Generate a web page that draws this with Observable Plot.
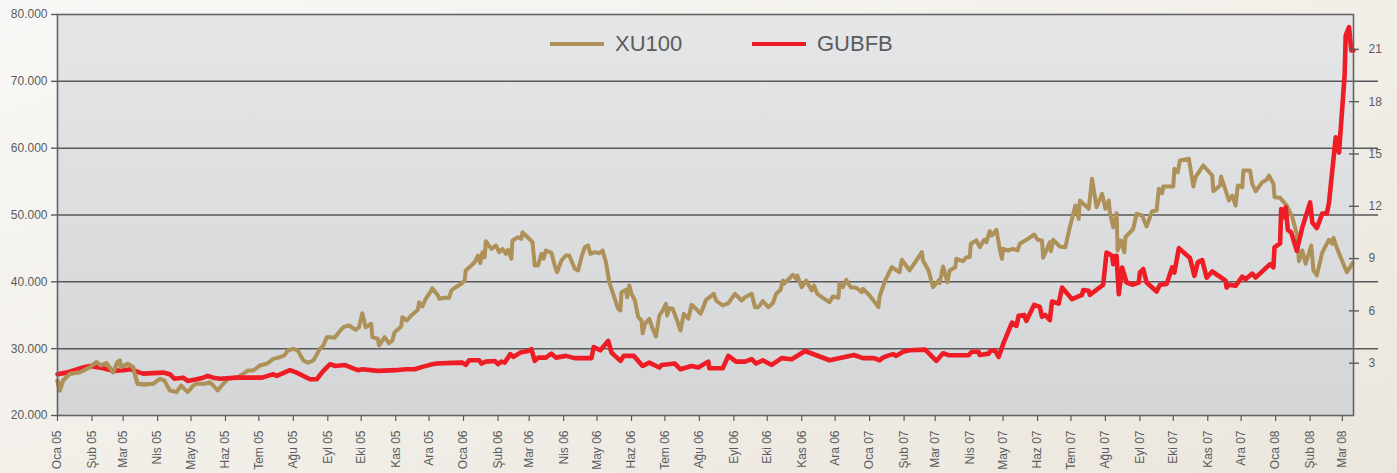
<!DOCTYPE html>
<html><head><meta charset="utf-8">
<script src="https://cdn.jsdelivr.net/npm/d3@7"></script>
<script src="https://cdn.jsdelivr.net/npm/@observablehq/plot@0.6"></script>
<style>
html,body{margin:0;padding:0;}
body{width:1397px;height:473px;overflow:hidden;background:linear-gradient(160deg,#f9f8f6 0%,#f2efe9 50%,#ebe6dd 100%);font-family:"Liberation Sans",Arial,sans-serif;}
#wrap{position:relative;width:1397px;height:473px;}
#wrap svg{position:absolute;left:0;top:0;}
.lg{position:absolute;top:31px;height:26px;display:flex;align-items:center;color:#5b5b5d;font-size:22px;}
.lg span.sw{display:inline-block;width:54px;height:4px;margin-right:11px;}
</style></head>
<body><div id="wrap"></div>
<script>
// ---- data ----
const xuDates = ["2005-01-01","2005-01-03","2005-01-06","2005-01-12","2005-01-21","2005-01-30","2005-02-05","2005-02-09","2005-02-14","2005-02-20","2005-02-24","2005-02-26","2005-02-27","2005-03-05","2005-03-10","2005-03-13","2005-03-14","2005-03-20","2005-03-28","2005-04-03","2005-04-07","2005-04-12","2005-04-18","2005-04-22","2005-04-25","2005-04-28","2005-05-03","2005-05-06","2005-05-13","2005-05-18","2005-05-21","2005-05-25","2005-05-30","2005-06-03","2005-06-12","2005-06-17","2005-06-21","2005-06-26","2005-07-02","2005-07-08","2005-07-14","2005-07-20","2005-07-24","2005-07-27","2005-08-01","2005-08-05","2005-08-10","2005-08-14","2005-08-19","2005-08-25","2005-08-28","2005-08-31","2005-09-04","2005-09-07","2005-09-11","2005-09-15","2005-09-20","2005-09-26","2005-09-29","2005-10-02","2005-10-05","2005-10-10","2005-10-11","2005-10-16","2005-10-17","2005-10-22","2005-10-26","2005-10-29","2005-10-31","2005-11-06","2005-11-07","2005-11-11","2005-11-15","2005-11-21","2005-11-22","2005-11-25","2005-11-28","2005-12-03","2005-12-04","2005-12-09","2005-12-10","2005-12-15","2005-12-19","2005-12-21","2005-12-25","2005-12-30","2006-01-02","2006-01-03","2006-01-07","2006-01-11","2006-01-14","2006-01-16","2006-01-18","2006-01-20","2006-01-21","2006-01-26","2006-01-30","2006-02-02","2006-02-05","2006-02-08","2006-02-10","2006-02-13","2006-02-14","2006-02-19","2006-02-22","2006-02-23","2006-02-26","2006-03-04","2006-03-06","2006-03-09","2006-03-12","2006-03-14","2006-03-16","2006-03-21","2006-03-24","2006-03-26","2006-03-30","2006-04-03","2006-04-06","2006-04-11","2006-04-14","2006-04-17","2006-04-20","2006-04-23","2006-04-25","2006-04-29","2006-05-03","2006-05-06","2006-05-09","2006-05-12","2006-05-20","2006-05-22","2006-05-23","2006-05-27","2006-05-28","2006-05-30","2006-06-01","2006-06-04","2006-06-07","2006-06-10","2006-06-11","2006-06-13","2006-06-17","2006-06-20","2006-06-23","2006-06-26","2006-06-29","2006-07-02","2006-07-03","2006-07-05","2006-07-08","2006-07-12","2006-07-15","2006-07-18","2006-07-22","2006-07-25","2006-07-29","2006-08-02","2006-08-04","2006-08-07","2006-08-14","2006-08-16","2006-08-22","2006-08-27","2006-09-02","2006-09-08","2006-09-11","2006-09-17","2006-09-20","2006-09-23","2006-09-27","2006-10-02","2006-10-06","2006-10-09","2006-10-13","2006-10-15","2006-10-16","2006-10-19","2006-10-24","2006-10-27","2006-10-28","2006-11-01","2006-11-05","2006-11-10","2006-11-12","2006-11-15","2006-11-20","2006-11-26","2006-11-29","2006-12-04","2006-12-05","2006-12-08","2006-12-11","2006-12-15","2006-12-20","2006-12-25","2006-12-26","2007-01-01","2007-01-09","2007-01-10","2007-01-15","2007-01-21","2007-01-28","2007-01-30","2007-02-06","2007-02-17","2007-02-18","2007-02-23","2007-02-27","2007-03-04","2007-03-05","2007-03-08","2007-03-12","2007-03-14","2007-03-19","2007-03-20","2007-03-26","2007-03-29","2007-04-01","2007-04-02","2007-04-07","2007-04-10","2007-04-14","2007-04-16","2007-04-19","2007-04-21","2007-04-25","2007-04-28","2007-04-30","2007-05-01","2007-05-05","2007-05-10","2007-05-14","2007-05-16","2007-05-22","2007-05-29","2007-06-01","2007-06-05","2007-06-06","2007-06-12","2007-06-13","2007-06-15","2007-06-21","2007-06-26","2007-06-30","2007-07-05","2007-07-08","2007-07-09","2007-07-17","2007-07-20","2007-07-24","2007-07-29","2007-08-01","2007-08-04","2007-08-05","2007-08-08","2007-08-11","2007-08-12","2007-08-15","2007-08-18","2007-08-19","2007-08-26","2007-08-29","2007-09-03","2007-09-07","2007-09-12","2007-09-16","2007-09-18","2007-09-21","2007-09-22","2007-10-01","2007-10-02","2007-10-05","2007-10-07","2007-10-15","2007-10-19","2007-10-21","2007-10-28","2007-11-05","2007-11-06","2007-11-12","2007-11-13","2007-11-20","2007-11-23","2007-11-26","2007-11-28","2007-12-02","2007-12-03","2007-12-09","2007-12-11","2007-12-14","2007-12-20","2007-12-24","2007-12-26","2007-12-30","2007-12-31","2008-01-05","2008-01-11","2008-01-16","2008-01-20","2008-01-22","2008-01-25","2008-01-28","2008-02-02","2008-02-04","2008-02-07","2008-02-12","2008-02-18","2008-02-21","2008-02-22","2008-02-25","2008-03-05","2008-03-08","2008-03-10"];
const xuValues = [25240,23740,25240,26240,26480,27230,27980,27480,27830,26480,27980,28230,27230,27740,27230,25240,24740,24640,24740,25490,25240,23740,23490,24490,23990,23490,24490,24740,24740,24980,24490,23740,24740,25490,25730,26240,26730,26730,27480,27740,28480,28720,28980,29730,29980,29730,28230,27890,28230,29980,30470,31720,31720,31630,32460,33210,33470,32820,33210,35310,33210,33720,31720,31480,30470,31720,30820,31220,32460,33320,34710,34210,34960,35820,36950,36310,37460,38700,39050,37960,37460,37610,37610,38700,39200,39710,40200,41700,42300,42940,43940,42790,44430,43690,46080,44940,45440,44430,44940,44200,44790,43450,46190,46680,46440,47430,46930,45930,42440,42440,44200,43450,44690,44340,42440,41440,43190,43940,43940,41950,41700,43690,45180,45440,44200,44430,44290,44690,42940,39950,35970,35710,38450,38810,37700,39450,38210,37210,34710,34210,32310,33720,34470,32970,31820,34960,35710,36710,34960,36060,35970,34210,32720,35220,34470,36560,35970,35220,35970,37310,38210,37210,36460,36800,38210,37210,37700,38210,36210,36210,37100,36210,36800,38210,38810,40200,39710,40200,41050,40450,40950,39200,40200,38700,39450,38210,37610,36950,37810,37610,39800,39200,40300,39200,39110,38450,38960,37960,36210,37810,40200,42190,41440,43300,41700,44430,43190,41700,39200,40200,39800,42290,39950,41700,42190,43450,43090,43690,43690,45690,46190,45180,46290,45930,47580,46930,47790,44940,43450,44940,44690,44940,44690,45690,46290,47080,46290,46190,43600,45930,44580,46290,45290,45180,48170,51420,49430,52170,50930,55420,51170,53170,50930,52170,50420,48170,50270,44690,46190,44430,46680,47940,50180,49930,48280,50570,50670,53920,53260,54270,54270,56910,56400,58160,58410,54270,55660,57410,55910,53560,54420,55760,52170,52920,51420,54420,54160,56660,56660,54670,53560,54910,55270,55910,54670,52670,52570,51420,49670,47190,43090,44690,42700,45440,41700,40950,44430,46290,45690,46590,45090,41440,42190,42790];

const gubDates = ["2005-01-01","2005-01-09","2005-01-24","2005-01-30","2005-02-11","2005-02-20","2005-03-01","2005-03-08","2005-03-16","2005-03-19","2005-04-06","2005-04-12","2005-04-16","2005-04-24","2005-04-28","2005-05-06","2005-05-12","2005-05-16","2005-05-21","2005-05-27","2005-06-11","2005-07-04","2005-07-14","2005-07-17","2005-07-29","2005-08-04","2005-08-16","2005-08-22","2005-08-28","2005-09-03","2005-09-08","2005-09-16","2005-09-22","2005-09-28","2005-10-02","2005-10-16","2005-11-01","2005-11-10","2005-11-18","2005-11-25","2005-12-04","2005-12-08","2005-12-22","2005-12-31","2006-01-03","2006-01-06","2006-01-15","2006-01-17","2006-01-21","2006-01-29","2006-02-01","2006-02-04","2006-02-07","2006-02-12","2006-02-15","2006-02-21","2006-02-28","2006-03-03","2006-03-06","2006-03-09","2006-03-16","2006-03-21","2006-03-25","2006-04-03","2006-04-11","2006-04-26","2006-04-28","2006-05-04","2006-05-11","2006-05-14","2006-05-22","2006-05-25","2006-06-03","2006-06-11","2006-06-17","2006-06-26","2006-06-28","2006-07-10","2006-07-15","2006-07-25","2006-07-31","2006-08-09","2006-08-10","2006-08-22","2006-08-27","2006-09-03","2006-09-11","2006-09-17","2006-09-21","2006-09-27","2006-10-05","2006-10-14","2006-10-23","2006-11-04","2006-11-26","2006-12-18","2006-12-26","2007-01-05","2007-01-10","2007-01-13","2007-01-17","2007-01-22","2007-01-25","2007-01-31","2007-02-06","2007-02-20","2007-03-02","2007-03-08","2007-03-13","2007-03-31","2007-04-03","2007-04-09","2007-04-10","2007-04-18","2007-04-20","2007-04-24","2007-04-27","2007-05-01","2007-05-09","2007-05-13","2007-05-15","2007-05-20","2007-05-22","2007-05-29","2007-06-03","2007-06-05","2007-06-08","2007-06-12","2007-06-14","2007-06-20","2007-06-23","2007-07-02","2007-07-11","2007-07-12","2007-07-17","2007-07-18","2007-07-30","2007-08-02","2007-08-07","2007-08-08","2007-08-10","2007-08-11","2007-08-13","2007-08-16","2007-08-20","2007-08-25","2007-08-31","2007-09-01","2007-09-04","2007-09-07","2007-09-16","2007-09-19","2007-09-25","2007-09-30","2007-10-02","2007-10-06","2007-10-16","2007-10-20","2007-10-23","2007-10-27","2007-10-31","2007-11-05","2007-11-17","2007-11-18","2007-11-20","2007-11-26","2007-12-02","2007-12-05","2007-12-11","2007-12-14","2007-12-27","2007-12-30","2007-12-31","2008-01-05","2008-01-06","2008-01-09","2008-01-10","2008-01-12","2008-01-15","2008-01-20","2008-01-25","2008-02-01","2008-02-03","2008-02-07","2008-02-12","2008-02-16","2008-02-18","2008-02-24","2008-02-27","2008-03-03","2008-03-04","2008-03-07","2008-03-09","2008-03-11"];
const gubValues = [2.37,2.46,2.75,2.84,2.71,2.56,2.60,2.65,2.46,2.40,2.46,2.37,2.11,2.17,1.98,2.08,2.17,2.27,2.17,2.11,2.17,2.17,2.37,2.27,2.60,2.46,2.08,2.08,2.56,2.94,2.84,2.90,2.75,2.60,2.65,2.56,2.60,2.65,2.65,2.79,2.94,2.98,3.02,3.03,2.90,3.17,3.17,2.98,3.09,3.13,2.94,3.09,3.03,3.52,3.36,3.61,3.70,3.80,3.13,3.32,3.32,3.55,3.32,3.42,3.29,3.29,3.93,3.74,4.28,3.61,3.13,3.42,3.42,2.84,3.03,2.75,2.90,2.98,2.65,2.84,2.75,3.09,2.71,2.71,3.42,3.09,3.09,3.23,2.98,3.17,2.90,3.29,3.23,3.70,3.17,3.47,3.29,3.29,3.17,3.32,3.42,3.52,3.42,3.66,3.74,3.78,3.13,3.57,3.46,3.46,3.66,3.66,3.47,3.55,3.74,3.70,3.36,4.09,5.33,5.14,5.72,5.77,5.43,6.35,6.23,5.66,5.77,5.47,6.54,6.42,7.34,6.67,6.92,7.19,7.15,6.92,7.50,9.35,9.16,8.68,9.16,9.16,6.96,8.49,7.63,7.50,7.63,8.20,8.40,7.63,7.11,7.50,7.54,8.49,8.20,9.60,9.03,8.01,8.78,8.91,7.91,8.26,7.73,7.34,7.50,7.44,7.96,7.82,8.14,7.91,8.68,8.49,9.64,9.87,11.84,11.36,11.94,10.64,10.50,9.45,10.79,12.22,11.07,10.75,11.59,11.59,12.22,15.96,15.09,19.50,21.80,22.27,20.94,20.94];

const leftTicks = [20000,30000,40000,50000,60000,70000,80000];
const gridTicks = [30000,40000,50000,60000,70000];
const rightTicks = [3,6,9,12,15,18,21];
const monthNames = ["Oca","Şub","Mar","Nis","May","Haz","Tem","Ağu","Eyl","Eki","Kas","Ara"];
const seriesNames = ["XU100","GUBFB"];
const seriesColors = ["#ad9159","#ee1c25"];

const LEFT_MIN = 20000, LEFT_MAX = 80000, RIGHT_MAX = 23;
const toLeft = v => LEFT_MIN + v * (LEFT_MAX - LEFT_MIN) / RIGHT_MAX;
const fromLeft = p => (p - LEFT_MIN) * RIGHT_MAX / (LEFT_MAX - LEFT_MIN);

const xu = xuDates.map((d, i) => ({date: new Date(d), value: xuValues[i]}));
const gub = gubDates.map((d, i) => ({date: new Date(d), value: toLeft(gubValues[i])}));

const xStart = new Date("2005-01-01"), xEnd = new Date("2008-03-11");
const monthTicks = d3.utcMonth.range(xStart, xEnd);
const loc = d3.formatLocale({decimal: ",", thousands: ".", grouping: [3], currency: ["", ""]});
const fmtK = loc.format(",.0f");
const fmtMonth = d => monthNames[d.getUTCMonth()] + " " + String(d.getUTCFullYear()).slice(2);

const defs = () => {
  const g = d3.create("svg:defs");
  const lg = g.append("linearGradient").attr("id", "plotGrad").attr("x1", 0).attr("y1", 0).attr("x2", 0).attr("y2", 1);
  lg.append("stop").attr("offset", "0%").attr("stop-color", "#e5e6e8");
  lg.append("stop").attr("offset", "100%").attr("stop-color", "#d4d5d7");
  return g.node();
};

const chart = Plot.plot({
  width: 1397, height: 473,
  marginLeft: 57, marginRight: 44, marginTop: 14, marginBottom: 58,
  style: {background: "transparent", fontFamily: "'Liberation Sans', Arial, sans-serif", fontSize: "12px", color: "#5b5b5d", overflow: "visible"},
  x: {type: "utc", domain: [xStart, xEnd]},
  y: {domain: [LEFT_MIN, LEFT_MAX]},
  marks: [
    defs,
    Plot.frame({fill: "url(#plotGrad)", stroke: "none"}),
    Plot.ruleY(gridTicks, {stroke: "#58585a", strokeWidth: 1.5, insetRight: -25}),
    Plot.line(xu, {x: "date", y: "value", stroke: seriesColors[0], strokeWidth: 4}),
    Plot.line(gub, {x: "date", y: "value", stroke: seriesColors[1], strokeWidth: 4.6}),
    Plot.line(xu, {x: "date", y: "value", stroke: seriesColors[0], strokeWidth: 4, filter: d => d.date < new Date("2005-04-01")}),
    Plot.frame({stroke: "#646466", strokeWidth: 1.6}),
    Plot.axisY(leftTicks, {anchor: "left", tickFormat: fmtK, tickSize: 6, tickPadding: 4, strokeWidth: 1.4, label: null}),
    Plot.axisY(rightTicks.map(toLeft), {anchor: "right", tickFormat: d => String(Math.round(fromLeft(d))), tickSize: 10, dx: -5, tickPadding: 10, strokeWidth: 1.4, label: null}),
    Plot.axisX(monthTicks, {tickFormat: fmtMonth, tickRotate: -90, tickSize: 6, tickPadding: 9, strokeWidth: 1.2, label: null})
  ]
});

const wrap = document.getElementById("wrap");
wrap.appendChild(chart);
const legendX = [550, 752];
seriesNames.forEach((name, i) => {
  const el = document.createElement("div");
  el.className = "lg";
  el.style.left = legendX[i] + "px";
  el.innerHTML = `<span class="sw" style="background:${seriesColors[i]}"></span>${name}`;
  wrap.appendChild(el);
});
</script>
</body></html>
